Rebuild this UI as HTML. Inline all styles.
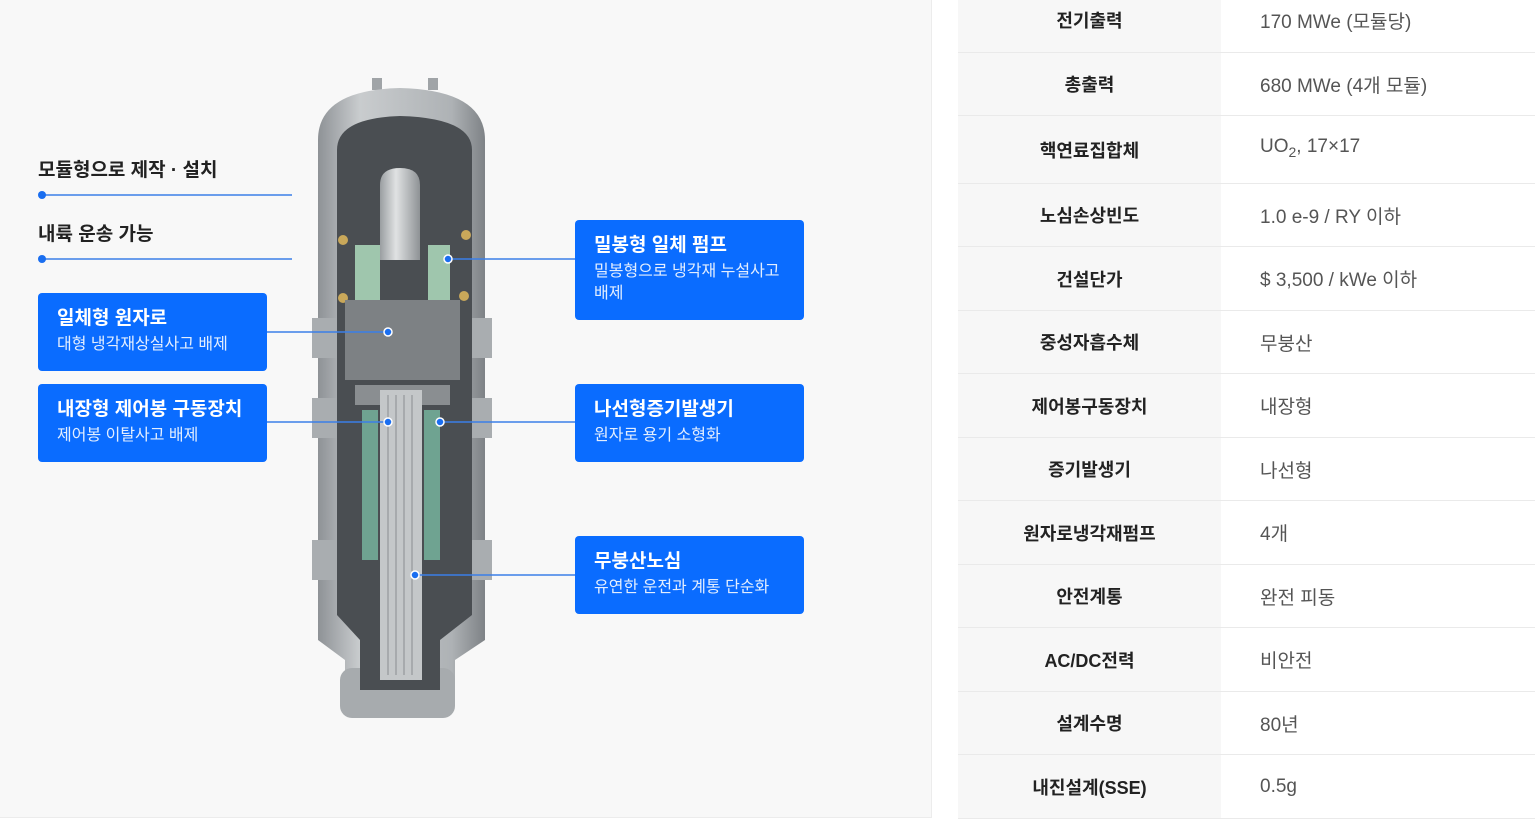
<!DOCTYPE html>
<html><head><meta charset="utf-8"><style>
*{margin:0;padding:0;box-sizing:border-box}
body{width:1535px;height:831px;background:#fff;position:relative;overflow:hidden;font-family:"Liberation Sans","Noto Sans CJK KR",sans-serif}
.panel{position:absolute;left:0;top:0;width:932px;height:818px;background:#f8f8f8;border-right:1px solid #ececec;border-bottom:1px solid #ececec}
.h{position:absolute;left:38px;font-size:19px;font-weight:700;color:#222}
.box{position:absolute;width:229px;background:#0a6cff;border-radius:4px;color:#fff;padding:13px 19px}
.box b{display:block;font-size:19px;font-weight:700;line-height:26px;margin-bottom:2px}
.box span{display:block;font-size:16px;line-height:22px;color:#e3eeff}
.tbl{position:absolute;left:958px;top:0;width:577px}
.row{position:absolute;left:0;width:577px;border-bottom:1px solid #eaeaea;display:flex;align-items:center}
.row .k{width:263px;height:100%;background:#f7f7f7;display:flex;align-items:center;justify-content:center;font-size:18px;font-weight:700;color:#222}
.row .v{padding-left:39px;font-size:19px;color:#555}
</style></head><body>
<div class="panel"></div>
<div class="h" style="top:155px">모듈형으로 제작 · 설치</div>
<div class="h" style="top:219px">내륙 운송 가능</div>
<svg width="932" height="818" style="position:absolute;left:0;top:0">
<line x1="42" y1="195" x2="292" y2="195" stroke="#3a7fe8" stroke-width="1.5"/><circle cx="42" cy="195" r="4" fill="#1a6ef0"/>
<line x1="42" y1="259" x2="292" y2="259" stroke="#3a7fe8" stroke-width="1.5"/><circle cx="42" cy="259" r="4" fill="#1a6ef0"/>
<defs><linearGradient id="g" x1="0" x2="1"><stop offset="0" stop-color="#8e9296"/><stop offset=".25" stop-color="#c9ccce"/><stop offset=".8" stop-color="#aeb2b5"/><stop offset="1" stop-color="#7e8286"/></linearGradient>
<linearGradient id="d" x1="0" x2="1"><stop offset="0" stop-color="#9a9ea1"/><stop offset=".4" stop-color="#e0e2e3"/><stop offset="1" stop-color="#8e9295"/></linearGradient></defs>
<rect x="372" y="78" width="10" height="12" fill="#a0a4a7"/><rect x="428" y="78" width="10" height="12" fill="#a0a4a7"/>
<path d="M318 140 Q318 90 400 88 Q485 90 485 140 L485 640 L455 660 L455 700 L345 700 L345 660 L318 640 Z" fill="url(#g)"/>
<rect x="340" y="668" width="115" height="50" rx="12" fill="#a7abae"/>
<rect x="312" y="318" width="180" height="40" fill="#a9adb0"/>
<rect x="312" y="398" width="180" height="40" fill="#a9adb0"/>
<rect x="312" y="540" width="180" height="40" fill="#a9adb0"/>
<path d="M337 150 Q337 118 400 116 Q472 118 472 150 L472 615 L440 640 L440 690 L360 690 L360 640 L337 615 Z" fill="#4a4e52"/>
<path d="M380 260 L380 185 Q380 168 400 168 Q420 168 420 185 L420 260 Z" fill="url(#d)"/>
<rect x="355" y="245" width="25" height="60" fill="#9fc6ad"/>
<rect x="428" y="245" width="22" height="80" fill="#9fc6ad"/>
<circle cx="343" cy="240" r="5" fill="#c9a85a"/><circle cx="343" cy="298" r="5" fill="#c9a85a"/>
<circle cx="466" cy="235" r="5" fill="#c9a85a"/><circle cx="464" cy="296" r="5" fill="#c9a85a"/>
<rect x="345" y="300" width="115" height="80" fill="#7d8184"/>
<rect x="355" y="385" width="95" height="20" fill="#8a8e91"/>
<rect x="362" y="410" width="16" height="150" fill="#6fa391"/>
<rect x="424" y="410" width="16" height="150" fill="#6fa391"/>
<rect x="380" y="390" width="42" height="290" fill="#c4c7c9"/>
<g stroke="#8a8e91" stroke-width="1"><line x1="388" y1="395" x2="388" y2="675"/><line x1="396" y1="395" x2="396" y2="675"/><line x1="404" y1="395" x2="404" y2="675"/><line x1="412" y1="395" x2="412" y2="675"/></g>
<g stroke="#3a7fe8" stroke-width="1.5">
<line x1="266" y1="332" x2="388" y2="332"/><line x1="266" y1="422" x2="388" y2="422"/>
<line x1="448" y1="259" x2="575" y2="259"/><line x1="440" y1="422" x2="575" y2="422"/><line x1="415" y1="575" x2="575" y2="575"/></g>
<g fill="#1a6ef0" stroke="#fff" stroke-width="1.5">
<circle cx="388" cy="332" r="4"/><circle cx="388" cy="422" r="4"/><circle cx="448" cy="259" r="4"/><circle cx="440" cy="422" r="4"/><circle cx="415" cy="575" r="4"/></g>
</svg>
<div class="box" style="left:38px;top:293px;height:78px"><b>일체형 원자로</b><span>대형 냉각재상실사고 배제</span></div>
<div class="box" style="left:38px;top:384px;height:78px"><b>내장형 제어봉 구동장치</b><span>제어봉 이탈사고 배제</span></div>
<div class="box" style="left:575px;top:220px;height:100px"><b>밀봉형 일체 펌프</b><span>밀봉형으로 냉각재 누설사고 배제</span></div>
<div class="box" style="left:575px;top:384px;height:78px"><b>나선형증기발생기</b><span>원자로 용기 소형화</span></div>
<div class="box" style="left:575px;top:536px;height:78px"><b>무붕산노심</b><span>유연한 운전과 계통 단순화</span></div>
<div class="tbl">
<div class="row" style="top:-12px;height:65px"><div class="k">전기출력</div><div class="v">170 MWe (모듈당)</div></div>
<div class="row" style="top:53px;height:63px"><div class="k">총출력</div><div class="v">680 MWe (4개 모듈)</div></div>
<div class="row" style="top:116px;height:68px"><div class="k">핵연료집합체</div><div class="v" style="margin-top:-4px">UO<sub style="font-size:14px">2</sub>, 17×17</div></div>
<div class="row" style="top:184px;height:63px"><div class="k">노심손상빈도</div><div class="v">1.0 e-9 / RY 이하</div></div>
<div class="row" style="top:247px;height:64px"><div class="k">건설단가</div><div class="v">$ 3,500 / kWe 이하</div></div>
<div class="row" style="top:311px;height:63px"><div class="k">중성자흡수체</div><div class="v">무붕산</div></div>
<div class="row" style="top:374px;height:64px"><div class="k">제어봉구동장치</div><div class="v">내장형</div></div>
<div class="row" style="top:438px;height:63px"><div class="k">증기발생기</div><div class="v">나선형</div></div>
<div class="row" style="top:501px;height:64px"><div class="k">원자로냉각재펌프</div><div class="v">4개</div></div>
<div class="row" style="top:565px;height:63px"><div class="k">안전계통</div><div class="v">완전 피동</div></div>
<div class="row" style="top:628px;height:64px"><div class="k">AC/DC전력</div><div class="v">비안전</div></div>
<div class="row" style="top:692px;height:63px"><div class="k">설계수명</div><div class="v">80년</div></div>
<div class="row" style="top:755px;height:64px"><div class="k">내진설계(SSE)</div><div class="v">0.5g</div></div>
</div>
</body></html>
